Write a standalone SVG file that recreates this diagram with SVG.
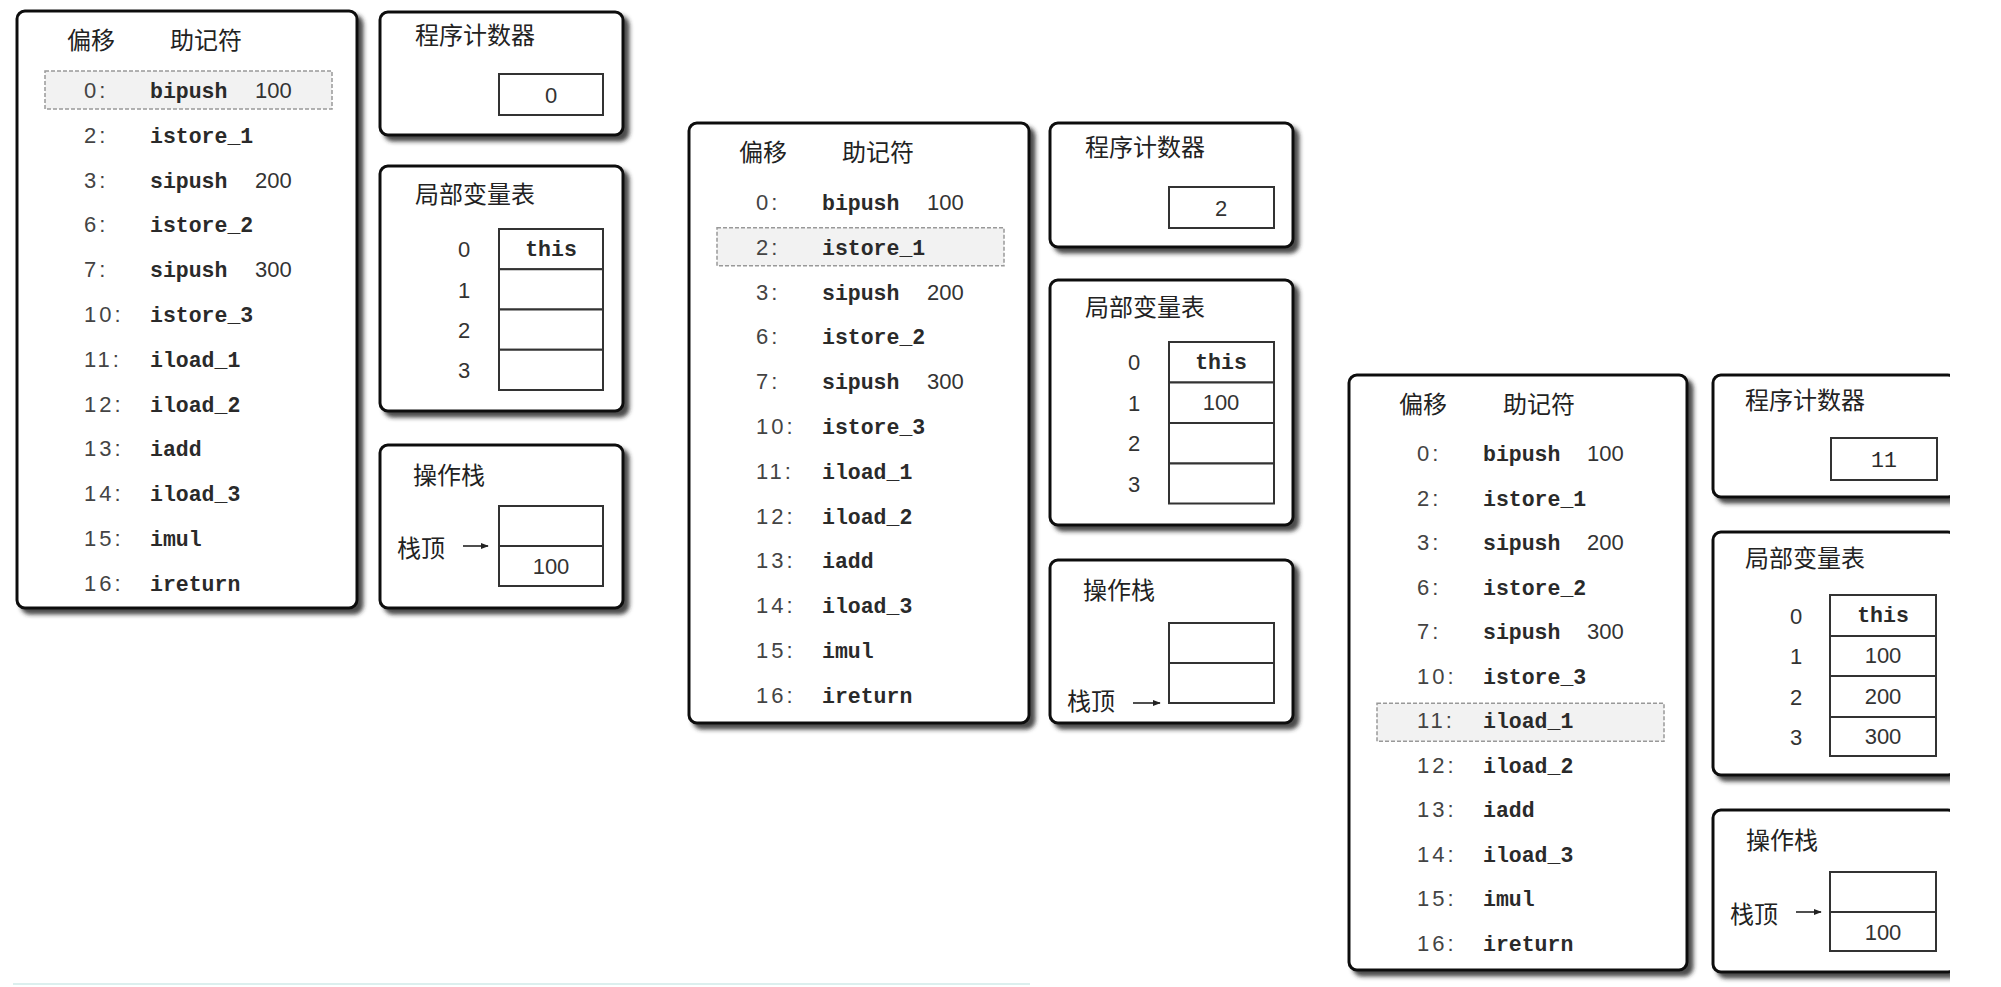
<svg xmlns="http://www.w3.org/2000/svg" width="2001" height="987" viewBox="0 0 2001 987">
<style>
.box{fill:#fff;stroke:#111;stroke-width:3;filter:url(#sh)}
.cell{fill:#fff;stroke:#333;stroke-width:2}
.hl{fill:#f2f2f2;stroke:#999;stroke-width:1.5;stroke-dasharray:4 2}
.cjk{font-family:"Noto Sans CJK SC","Noto Sans",sans-serif;font-size:24px;fill:#222}
.off{font-family:"Liberation Sans",Arial,sans-serif;font-size:22px;fill:#444;letter-spacing:3px}
.mn{font-family:"Liberation Mono","Courier New",monospace;font-size:21.5px;font-weight:bold;fill:#2a2a2a}
.mnl{font-family:"Liberation Mono","Courier New",monospace;font-size:21.5px;fill:#2a2a2a}
.num{font-family:"Liberation Sans",Arial,sans-serif;font-size:22px;fill:#333}
.ctr{text-anchor:middle}
.arr{stroke:#222;stroke-width:1.6;fill:none;marker-end:url(#ah)}
</style>
<defs>
<filter id="sh" x="-5%" y="-5%" width="115%" height="115%">
<feGaussianBlur in="SourceAlpha" stdDeviation="2"/>
<feOffset dx="5" dy="5" result="b"/>
<feFlood flood-color="#2a2a2a" flood-opacity="0.85"/>
<feComposite in2="b" operator="in"/>
<feMerge><feMergeNode/><feMergeNode in="SourceGraphic"/></feMerge>
</filter>
<marker id="ah" viewBox="0 0 10 10" refX="9" refY="5" markerWidth="5" markerHeight="5" orient="auto" markerUnits="strokeWidth">
<path d="M0,1 L10,5 L0,9 z" fill="#222"/>
</marker>
<clipPath id="clip3"><rect x="0" y="0" width="1950" height="987"/></clipPath>
</defs>
<rect width="2001" height="987" fill="#fff"/>
<line x1="13" y1="984" x2="1030" y2="984" stroke="#dcefee" stroke-width="2"/>

<!-- Panel 1 -->
<g id="panel1" transform="translate(17,11)">
<g id="p1-code">
<rect class="box" x="0" y="0" width="340" height="597" rx="8"/>
<text class="cjk" x="50" y="38">偏移</text><text class="cjk" x="153" y="38">助记符</text>
<rect class="hl" x="28" y="60" width="287" height="38"/>
<text class="off" x="67" y="87">0:</text><text class="mn" x="133" y="87">bipush</text><text class="num" x="238" y="87">100</text>
<text class="off" x="67" y="131.8">2:</text><text class="mn" x="133" y="131.8">istore_1</text>
<text class="off" x="67" y="176.6">3:</text><text class="mn" x="133" y="176.6">sipush</text><text class="num" x="238" y="176.6">200</text>
<text class="off" x="67" y="221.4">6:</text><text class="mn" x="133" y="221.4">istore_2</text>
<text class="off" x="67" y="266.2">7:</text><text class="mn" x="133" y="266.2">sipush</text><text class="num" x="238" y="266.2">300</text>
<text class="off" x="67" y="311">10:</text><text class="mn" x="133" y="311">istore_3</text>
<text class="off" x="67" y="355.8">11:</text><text class="mn" x="133" y="355.8">iload_1</text>
<text class="off" x="67" y="400.6">12:</text><text class="mn" x="133" y="400.6">iload_2</text>
<text class="off" x="67" y="445.4">13:</text><text class="mn" x="133" y="445.4">iadd</text>
<text class="off" x="67" y="490.2">14:</text><text class="mn" x="133" y="490.2">iload_3</text>
<text class="off" x="67" y="535">15:</text><text class="mn" x="133" y="535">imul</text>
<text class="off" x="67" y="579.8">16:</text><text class="mn" x="133" y="579.8">ireturn</text>
</g>
<g id="p1-pc">
<rect class="box" x="363" y="1" width="243" height="123" rx="8"/>
<text class="cjk" x="398" y="33">程序计数器</text>
<rect class="cell" x="482" y="63" width="104" height="41"/>
<text class="num ctr" x="534" y="91.5">0</text>
</g>
<g id="p1-locals">
<rect class="box" x="363" y="155" width="243" height="245" rx="8"/>
<text class="cjk" x="398" y="192">局部变量表</text>
<rect class="cell" x="482" y="218" width="104" height="40.25"/>
<rect class="cell" x="482" y="258.25" width="104" height="40.25"/>
<rect class="cell" x="482" y="298.5" width="104" height="40.25"/>
<rect class="cell" x="482" y="338.75" width="104" height="40.25"/>
<text class="num ctr" x="447" y="246">0</text><text class="num ctr" x="447" y="286.5">1</text><text class="num ctr" x="447" y="326.5">2</text><text class="num ctr" x="447" y="367">3</text>
<text class="mn ctr" x="534" y="245">this</text>
</g>
<g id="p1-stack">
<rect class="box" x="363" y="434" width="243" height="163" rx="8"/>
<text class="cjk" x="396" y="473">操作栈</text>
<rect class="cell" x="482" y="495" width="104" height="40"/>
<rect class="cell" x="482" y="535" width="104" height="40"/>
<text class="num ctr" x="534" y="563">100</text>
<text class="cjk" x="380" y="546">栈顶</text>
</g>
</g>

<!-- Panel 2 -->
<g id="panel2" transform="translate(689,123)">
<g id="p2-code">
<rect class="box" x="0" y="0" width="340" height="600" rx="8"/>
<text class="cjk" x="50" y="38">偏移</text><text class="cjk" x="153" y="38">助记符</text>
<rect class="hl" x="28" y="104.8" width="287" height="38"/>
<text class="off" x="67" y="87">0:</text><text class="mn" x="133" y="87">bipush</text><text class="num" x="238" y="87">100</text>
<text class="off" x="67" y="131.8">2:</text><text class="mn" x="133" y="131.8">istore_1</text>
<text class="off" x="67" y="176.6">3:</text><text class="mn" x="133" y="176.6">sipush</text><text class="num" x="238" y="176.6">200</text>
<text class="off" x="67" y="221.4">6:</text><text class="mn" x="133" y="221.4">istore_2</text>
<text class="off" x="67" y="266.2">7:</text><text class="mn" x="133" y="266.2">sipush</text><text class="num" x="238" y="266.2">300</text>
<text class="off" x="67" y="311">10:</text><text class="mn" x="133" y="311">istore_3</text>
<text class="off" x="67" y="355.8">11:</text><text class="mn" x="133" y="355.8">iload_1</text>
<text class="off" x="67" y="400.6">12:</text><text class="mn" x="133" y="400.6">iload_2</text>
<text class="off" x="67" y="445.4">13:</text><text class="mn" x="133" y="445.4">iadd</text>
<text class="off" x="67" y="490.2">14:</text><text class="mn" x="133" y="490.2">iload_3</text>
<text class="off" x="67" y="535">15:</text><text class="mn" x="133" y="535">imul</text>
<text class="off" x="67" y="579.8">16:</text><text class="mn" x="133" y="579.8">ireturn</text>
</g>
<g id="p2-pc">
<rect class="box" x="361" y="0" width="243" height="124" rx="8"/>
<text class="cjk" x="396" y="33">程序计数器</text>
<rect class="cell" x="480" y="64" width="105" height="41"/>
<text class="num ctr" x="532" y="92.5">2</text>
</g>
<g id="p2-locals">
<rect class="box" x="361" y="157" width="243" height="245" rx="8"/>
<text class="cjk" x="396" y="193">局部变量表</text>
<rect class="cell" x="480" y="219" width="105" height="40.5"/>
<rect class="cell" x="480" y="259.5" width="105" height="40.5"/>
<rect class="cell" x="480" y="300" width="105" height="40.5"/>
<rect class="cell" x="480" y="340.5" width="105" height="40"/>
<text class="num ctr" x="445" y="247">0</text><text class="num ctr" x="445" y="288">1</text><text class="num ctr" x="445" y="328">2</text><text class="num ctr" x="445" y="369">3</text>
<text class="mn ctr" x="532" y="246">this</text>
<text class="num ctr" x="532" y="287">100</text>
</g>
<g id="p2-stack">
<rect class="box" x="361" y="437" width="243" height="163" rx="8"/>
<text class="cjk" x="394" y="476">操作栈</text>
<rect class="cell" x="480" y="500" width="105" height="40"/>
<rect class="cell" x="480" y="540" width="105" height="40"/>
<text class="cjk" x="378" y="587">栈顶</text>
</g>
</g>

<!-- Panel 3 -->
<g id="panel3" transform="translate(1349,375)">
<g id="p3-code">
<rect class="box" x="0" y="0" width="338" height="595" rx="8"/>
<text class="cjk" x="50" y="38">偏移</text><text class="cjk" x="154" y="38">助记符</text>
<rect class="hl" x="28" y="328.3" width="287" height="38"/>
<text class="off" x="68" y="86">0:</text><text class="mn" x="134" y="86">bipush</text><text class="num" x="238" y="86">100</text>
<text class="off" x="68" y="130.5">2:</text><text class="mn" x="134" y="130.5">istore_1</text>
<text class="off" x="68" y="175">3:</text><text class="mn" x="134" y="175">sipush</text><text class="num" x="238" y="175">200</text>
<text class="off" x="68" y="219.5">6:</text><text class="mn" x="134" y="219.5">istore_2</text>
<text class="off" x="68" y="264">7:</text><text class="mn" x="134" y="264">sipush</text><text class="num" x="238" y="264">300</text>
<text class="off" x="68" y="308.5">10:</text><text class="mn" x="134" y="308.5">istore_3</text>
<text class="off" x="68" y="353">11:</text><text class="mn" x="134" y="353">iload_1</text>
<text class="off" x="68" y="397.5">12:</text><text class="mn" x="134" y="397.5">iload_2</text>
<text class="off" x="68" y="442">13:</text><text class="mn" x="134" y="442">iadd</text>
<text class="off" x="68" y="486.5">14:</text><text class="mn" x="134" y="486.5">iload_3</text>
<text class="off" x="68" y="531">15:</text><text class="mn" x="134" y="531">imul</text>
<text class="off" x="68" y="575.5">16:</text><text class="mn" x="134" y="575.5">ireturn</text>
</g>
</g>
<g clip-path="url(#clip3)">
<g transform="translate(1349,375)">
<g id="p3-pc">
<rect class="box" x="364" y="0" width="243" height="122" rx="8"/>
<text class="cjk" x="396" y="34">程序计数器</text>
<rect class="cell" x="482" y="63" width="106" height="42"/>
<text class="mnl ctr" x="535" y="92">11</text>
</g>
<g id="p3-locals">
<rect class="box" x="364" y="157" width="243" height="243" rx="8"/>
<text class="cjk" x="396" y="192">局部变量表</text>
<rect class="cell" x="481" y="220" width="106" height="41"/>
<rect class="cell" x="481" y="261" width="106" height="40"/>
<rect class="cell" x="481" y="301" width="106" height="41"/>
<rect class="cell" x="481" y="342" width="106" height="39"/>
<text class="num ctr" x="447" y="248.5">0</text><text class="num ctr" x="447" y="289">1</text><text class="num ctr" x="447" y="329.5">2</text><text class="num ctr" x="447" y="369.5">3</text>
<text class="mn ctr" x="534" y="247">this</text>
<text class="num ctr" x="534" y="288">100</text>
<text class="num ctr" x="534" y="328.5">200</text>
<text class="num ctr" x="534" y="368.5">300</text>
</g>
<g id="p3-stack">
<rect class="box" x="364" y="435" width="243" height="162" rx="8"/>
<text class="cjk" x="397" y="474">操作栈</text>
<rect class="cell" x="481" y="497" width="106" height="40"/>
<rect class="cell" x="481" y="537" width="106" height="39"/>
<text class="num ctr" x="534" y="565">100</text>
<text class="cjk" x="381" y="548">栈顶</text>
</g>
</g>
</g>

<g id="connectors">
<line class="arr" x1="463" y1="546" x2="488" y2="546"/>
<line class="arr" x1="1133" y1="703" x2="1160" y2="703"/>
<line class="arr" x1="1796" y1="912" x2="1821" y2="912"/>
</g>
</svg>
